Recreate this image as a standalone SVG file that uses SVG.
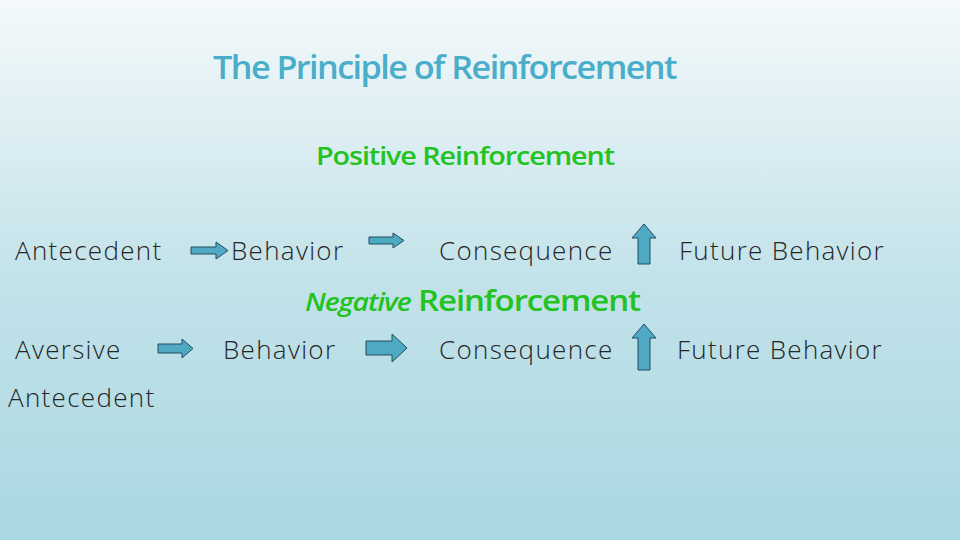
<svg xmlns="http://www.w3.org/2000/svg" width="960" height="540" viewBox="0 0 960 540">
<defs>
<linearGradient id="bg" x1="0" y1="0" x2="0" y2="1"><stop offset="0" stop-color="#f4f9fb"/><stop offset="0.5" stop-color="#c4e3ea"/><stop offset="1" stop-color="#a9d7e2"/></linearGradient>
<style>
.t{font-family:"Open Sans",sans-serif;font-weight:300;font-size:26px;fill:#262626;letter-spacing:1.3px}
.g{font-family:"Open Sans",sans-serif;font-weight:600;fill:#22c322;letter-spacing:-1px}
.a{fill:#4fa9c3;stroke:#1f4e63;stroke-width:1}
</style>
</defs>
<rect width="960" height="540" fill="url(#bg)"/>
<text x="213" y="79" textLength="463" lengthAdjust="spacingAndGlyphs" font-family="Open Sans, sans-serif" font-weight="600" font-size="33" fill="#4aaecb" letter-spacing="-1.5">The Principle of Reinforcement</text>
<text class="g" x="316" y="165" textLength="298" lengthAdjust="spacingAndGlyphs" font-size="26">Positive Reinforcement</text>
<text class="g" x="305" y="311" textLength="335" lengthAdjust="spacingAndGlyphs" font-size="29"><tspan font-style="italic" font-size="25">Negative</tspan> Reinforcement</text>
<g id="n1"><text class="t" x="15" y="260">Antecedent</text></g>
<g id="n2"><text class="t" x="231" y="260">Behavior</text></g>
<g id="n3"><text class="t" x="439" y="260">Consequence</text></g>
<g id="n4"><text class="t" x="679" y="260">Future Behavior</text></g>
<g id="n5"><text class="t" x="15" y="359">Aversive</text><text class="t" x="8" y="407">Antecedent</text></g>
<g id="n6"><text class="t" x="223" y="359">Behavior</text></g>
<g id="n7"><text class="t" x="439" y="359">Consequence</text></g>
<g id="n8"><text class="t" x="677" y="359">Future Behavior</text></g>
<g id="connectors">
<path class="a" d="M191,247 H216 V242 L228,250.5 L216,259 V254 H191 Z"/>
<path class="a" d="M369,237 H393 V233 L404,240.5 L393,248 V244 H369 Z"/>
<path class="a" d="M638,264 V238 H632 L644,224 L656,238 H650 V264 Z"/>
<path class="a" d="M158,344 H182 V339 L193,348.5 L182,358 V353 H158 Z"/>
<path class="a" d="M366,341 H392 V334 L407,348 L392,362 V355 H366 Z"/>
<path class="a" d="M638,370 V338 H632 L644,324 L656,338 H650 V370 Z"/>
</g>
</svg>
